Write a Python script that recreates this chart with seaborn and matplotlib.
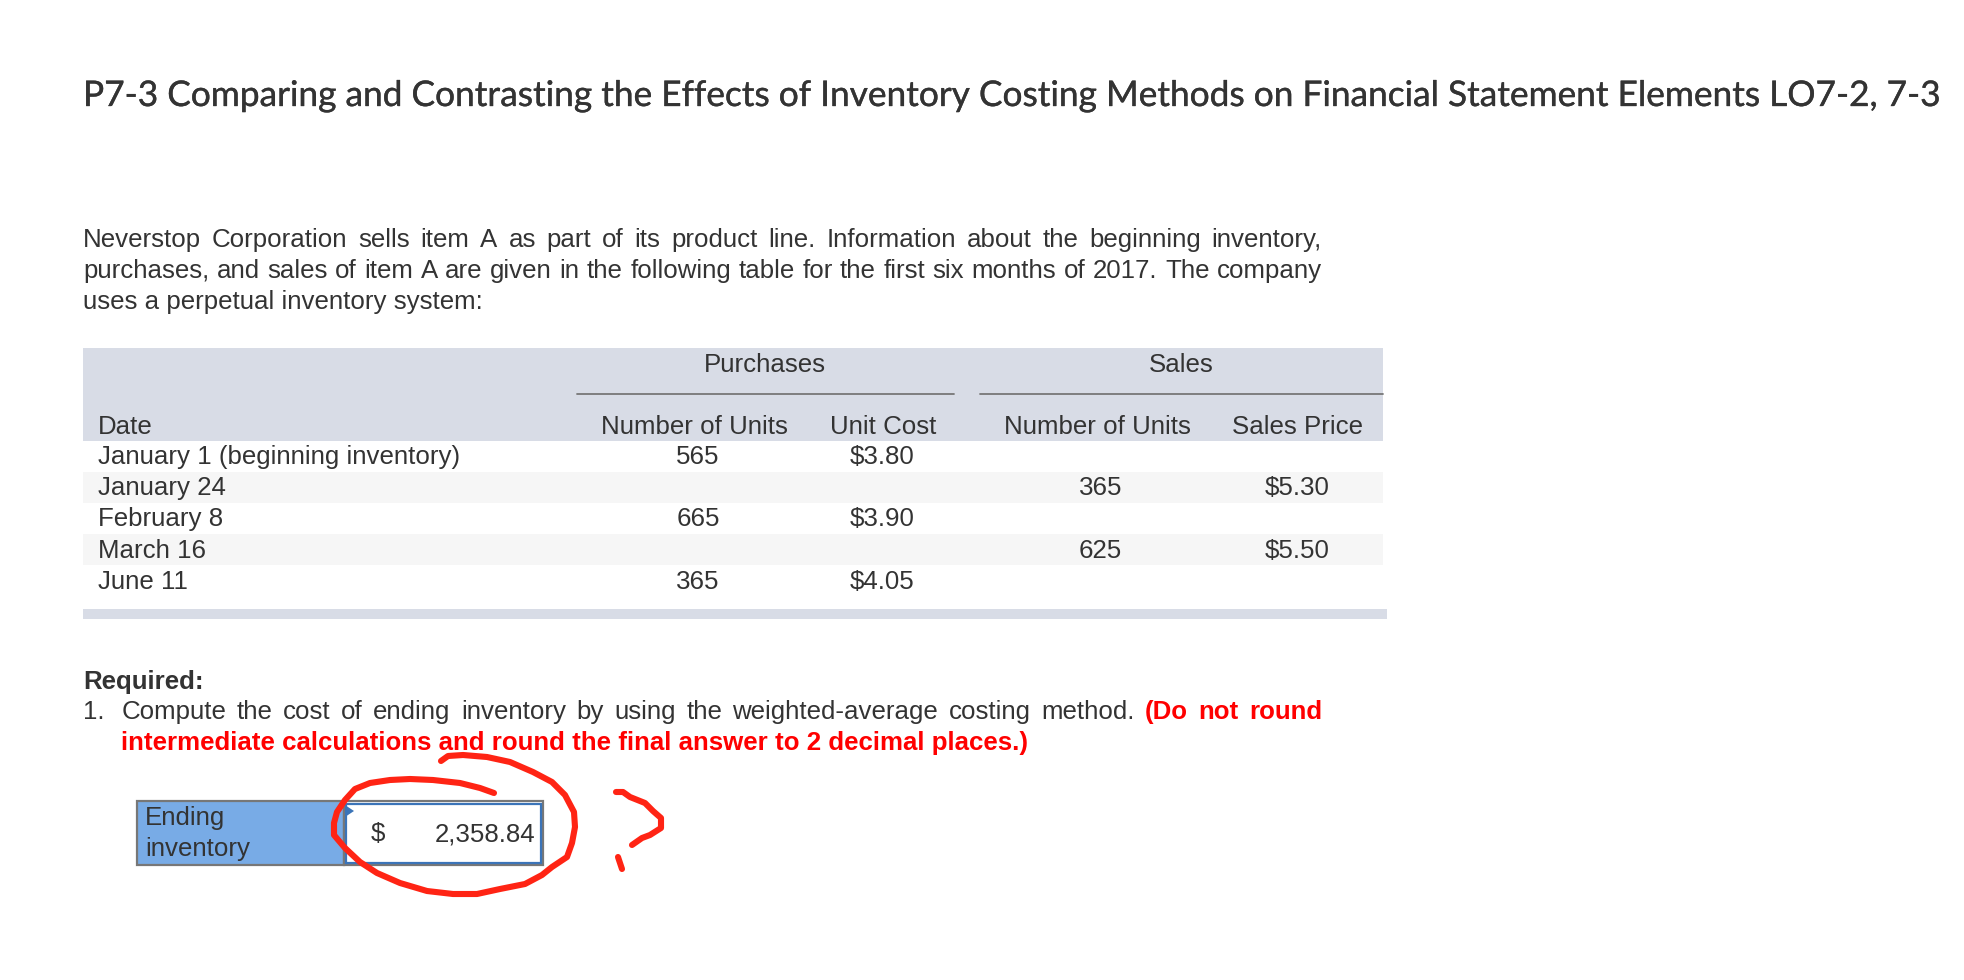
import matplotlib
matplotlib.use('Agg')
import matplotlib.pyplot as plt
import matplotlib.patheffects as pe
from matplotlib.patches import Rectangle, Polygon
import seaborn as sns

sns.set_theme(style='white')
plt.rcParams['font.family'] = ['Liberation Sans', 'DejaVu Sans']

title = 'P7-3 Comparing and Contrasting the Effects of Inventory Costing Methods on Financial Statement Elements LO7-2, 7-3'
intro = [
    'Neverstop Corporation sells item A as part of its product line. Information about the beginning inventory,',
    'purchases, and sales of item A are given in the following table for the first six months of 2017. The company',
    'uses a perpetual inventory system:',
]
dates = ['January 1 (beginning inventory)', 'January 24', 'February 8', 'March 16', 'June 11']
purchase_units = ['565', '', '665', '', '365']
unit_cost = ['$3.80', '', '$3.90', '', '$4.05']
sales_units = ['', '365', '', '625', '']
sales_price = ['', '$5.30', '', '$5.50', '']
answer = '2,358.84'

# red pen marks, in image pixels
circle_x = [494, 480, 460, 433, 410, 390, 370, 355, 345, 337, 334, 334, 345, 360, 377, 400, 427, 453, 477, 500, 525, 542, 552, 567, 572, 575, 574, 565, 552, 533, 510, 487, 463, 448, 441]
circle_y = [793, 788, 783, 780, 779, 780, 783, 789, 800, 812, 823, 835, 848, 862, 873, 883, 891, 894, 894, 889, 884, 875, 867, 857, 843, 827, 812, 795, 782, 772, 762, 757, 755, 756, 761]
hook_x = [616, 623, 630, 645, 653, 661, 661, 650, 642, 632]
hook_y = [792, 792, 797, 803, 811, 818, 828, 835, 838, 845]
dot_x = [618, 622]
dot_y = [857, 869]

dark = '#333333'
band = '#d8dce6'
alt = '#f6f6f6'
red = '#ff0000'
pen = '#ff2414'
fs = 18.6

fig = plt.figure(figsize=(19.65, 9.8), dpi=100, facecolor='white')
ax = fig.add_axes([0, 0, 1, 1])
ax.set_xlim(0, 1965)
ax.set_ylim(980, 0)
ax.axis('off')
renderer = fig.canvas.get_renderer()


def justify(words, x0, x1, y):
    # spread words evenly between x0 and x1, words are (text, weight, colour)
    items = [ax.text(x0, y, w, fontsize=fs, fontweight=wt, color=c, va='baseline') for w, wt, c in words]
    widths = [t.get_window_extent(renderer).width for t in items]
    gap = (x1 - x0 - sum(widths)) / (len(items) - 1)
    x = x0
    for t, w in zip(items, widths):
        t.set_x(x)
        x += w + gap


ax.text(83, 106, title, fontsize=25.4, family='Lato', color=dark, va='baseline',
        path_effects=[pe.withStroke(linewidth=0.25, foreground=dark)])

justify([(w, 'normal', dark) for w in intro[0].split()], 83, 1322, 247)
justify([(w, 'normal', dark) for w in intro[1].split()], 83, 1322, 278)
ax.text(83, 309, intro[2], fontsize=fs, color=dark, va='baseline')

# table backgrounds
ax.add_patch(Rectangle((83, 348), 1300, 92.7, fc=band, ec='none'))
ax.add_patch(Rectangle((83, 472), 1300, 30.7, fc=alt, ec='none'))
ax.add_patch(Rectangle((83, 534), 1300, 31, fc=alt, ec='none'))
ax.add_patch(Rectangle((83, 609), 1304, 9.7, fc=band, ec='none'))
ax.plot([577, 954], [393.7, 393.7], color='#777777', lw=1.3)
ax.plot([980, 1383], [393.7, 393.7], color='#777777', lw=1.3)

ax.text(765, 372, 'Purchases', fontsize=fs, color=dark, ha='center', va='baseline')
ax.text(1181, 372, 'Sales', fontsize=fs, color=dark, ha='center', va='baseline')
ax.text(98, 434, 'Date', fontsize=fs, color=dark, va='baseline')
ax.text(694, 434, 'Number of Units', fontsize=fs, color=dark, ha='center', va='baseline')
ax.text(883, 434, 'Unit Cost', fontsize=fs, color=dark, ha='center', va='baseline')
ax.text(1097, 434, 'Number of Units', fontsize=fs, color=dark, ha='center', va='baseline')
ax.text(1298, 434, 'Sales Price', fontsize=fs, color=dark, ha='center', va='baseline')

row_y = [464, 495, 526, 557.5, 588.5]
for i, y in enumerate(row_y):
    ax.text(98, y, dates[i], fontsize=fs, color=dark, va='baseline')
    ax.text(698, y, purchase_units[i], fontsize=fs, color=dark, ha='center', va='baseline')
    ax.text(882, y, unit_cost[i], fontsize=fs, color=dark, ha='center', va='baseline')
    ax.text(1100.5, y, sales_units[i], fontsize=fs, color=dark, ha='center', va='baseline')
    ax.text(1297, y, sales_price[i], fontsize=fs, color=dark, ha='center', va='baseline')

# required section
ax.text(83, 689, 'Required:', fontsize=fs, fontweight='bold', color=dark, va='baseline')
ax.text(83, 719, '1.', fontsize=fs, color=dark, va='baseline')
line = [(w, 'normal', dark) for w in 'Compute the cost of ending inventory by using the weighted-average costing method.'.split()]
line += [(w, 'bold', red) for w in '(Do not round'.split()]
justify(line, 121.5, 1322, 719)
ax.text(121.5, 750, 'intermediate calculations and round the final answer to 2 decimal places.)',
        fontsize=18.67, fontweight='bold', color=red, va='baseline')

# answer box
ax.add_patch(Rectangle((137, 801), 207, 64, fc='#78abe6', ec='#777777', lw=1.6))
ax.add_patch(Rectangle((344, 801), 199.5, 64, fc='white', ec='#777777', lw=1.6))
ax.add_patch(Rectangle((346, 803.5), 195.5, 59, fc='none', ec='#3b74b8', lw=1.6))
ax.add_patch(Polygon([(345, 805), (354, 811), (345, 817)], fc='#3b74b8', ec='none'))
ax.text(145, 825, 'Ending', fontsize=fs, color=dark, va='baseline')
ax.text(145, 856, 'inventory', fontsize=fs, color=dark, va='baseline')
ax.text(371, 841, '$', fontsize=fs, color=dark, va='baseline')
ax.text(535, 841, answer, fontsize=fs, color=dark, ha='right', va='baseline')

for xs, ys in [(circle_x, circle_y), (hook_x, hook_y), (dot_x, dot_y)]:
    sns.lineplot(x=xs, y=ys, sort=False, estimator=None, color=pen, lw=4.4, ax=ax,
                 solid_capstyle='round', solid_joinstyle='round')
ax.set_xlim(0, 1965)
ax.set_ylim(980, 0)
ax.axis('off')

fig.savefig('out.png', dpi=100)
